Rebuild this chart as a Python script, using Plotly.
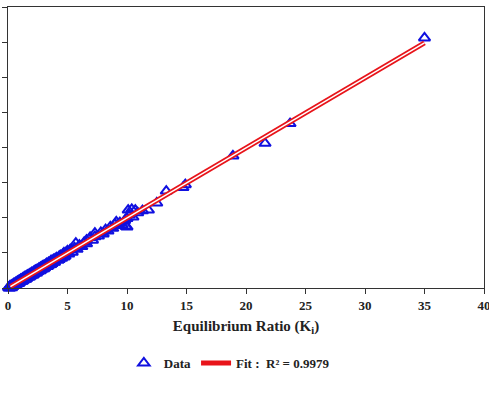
import plotly.graph_objects as go

# Observed data (Equilibrium Ratio, x) vs predicted (y)
data_x = [0.05, 0.15, 0.3, 0.45, 0.6, 0.75, 0.9, 1.05, 1.2, 1.35, 1.5, 1.65, 1.8, 1.95, 2.1,
          2.25, 2.4, 2.55, 2.7, 2.85, 3.0, 3.2, 3.4, 3.6, 3.8, 4.1, 4.4, 4.7, 5.0, 5.3,
          0.1, 0.25, 0.4, 0.55, 0.7, 0.85, 1.0, 1.15, 1.3, 1.45, 1.6, 1.75, 1.9, 2.05, 2.2,
          2.35, 2.5, 2.65, 2.8, 2.95, 3.1, 3.3, 3.5, 3.7, 3.9, 4.2, 4.5, 4.8, 5.1, 5.4,
          0.2, 0.35, 0.5, 0.65, 0.8, 0.95, 1.1, 1.25, 1.4, 1.55, 1.7, 1.85, 2.0, 2.15, 2.3,
          2.45, 2.6, 2.75, 2.9, 3.05, 3.25, 3.45, 3.65, 3.85, 4.05, 4.3, 4.6, 4.9, 5.2,
          0.02, 0.08, 0.12, 0.18, 0.22, 0.28, 0.33, 0.38, 0.5, 0.62, 0.78, 0.95, 1.12, 1.28,
          1.42, 1.58, 1.72, 1.88, 2.02, 2.18, 2.32, 2.48, 2.62, 2.78, 2.92, 3.08, 3.22, 3.38,
          0.3, 0.6, 0.9, 1.2, 1.5, 1.8, 2.1, 2.4, 2.7, 3.0, 3.3, 3.6, 3.9, 4.3, 4.7,
          3.95, 5.7, 5.6, 5.8, 6.0, 6.2, 6.4, 6.6, 6.6, 6.9, 7.1, 7.3, 7.3, 7.6, 7.8, 8.0,
          8.2, 8.4, 8.6, 8.8, 9.0, 9.1, 9.2, 9.4, 9.6, 9.8, 9.9, 10.0, 10.0, 10.1, 10.2,
          10.4, 10.5, 10.7, 10.9, 11.3, 11.8, 12.5, 13.3, 14.7, 14.9, 18.9, 21.6, 23.7, 35.0]
data_y = [0.1, 0.25, 0.35, 0.55, 0.7, 0.85, 1.0, 1.2, 1.3, 1.5, 1.6, 1.8, 1.95, 2.1, 2.2,
          2.4, 2.55, 2.7, 2.85, 3.0, 3.15, 3.4, 3.6, 3.85, 4.0, 4.3, 4.6, 5.0, 5.3, 5.5,
          0.0, 0.1, 0.25, 0.4, 0.55, 0.7, 0.85, 1.0, 1.15, 1.3, 1.45, 1.6, 1.75, 1.9, 2.05,
          2.2, 2.35, 2.5, 2.65, 2.8, 2.95, 3.1, 3.3, 3.5, 3.7, 3.95, 4.25, 4.55, 4.85, 5.1,
          0.3, 0.45, 0.62, 0.78, 0.95, 1.1, 1.25, 1.4, 1.58, 1.72, 1.88, 2.02, 2.2, 2.33, 2.5,
          2.62, 2.8, 2.92, 3.1, 3.22, 3.45, 3.62, 3.85, 4.02, 4.25, 4.5, 4.8, 5.1, 5.4,
          -0.05, 0.02, -0.02, 0.05, 0.08, 0.12, 0.18, 0.2, 0.35, 0.45, 0.6, 0.78, 0.95, 1.1,
          1.25, 1.4, 1.55, 1.7, 1.85, 2.0, 2.15, 2.3, 2.45, 2.6, 2.75, 2.9, 3.05, 3.2,
          0.05, 0.35, 0.65, 0.95, 1.25, 1.55, 1.85, 2.15, 2.45, 2.75, 3.05, 3.35, 3.65, 4.05, 4.4,
          4.1, 6.4, 5.7, 5.5, 6.1, 5.9, 6.5, 6.3, 6.8, 7.2, 6.8, 7.3, 7.8, 7.4, 7.9, 7.7,
          8.3, 8.1, 8.7, 8.5, 9.1, 9.4, 8.9, 9.3, 9.0, 9.6, 8.8, 9.9, 8.7, 11.1, 10.4,
          11.2, 10.1, 11.1, 10.7, 11.0, 11.1, 12.1, 13.8, 14.3, 14.7, 18.8, 20.6, 23.4, 35.6]

fit_x = [0.2, 35.0]
fit_y = [0.2, 34.9]

x_ticks = [0, 5, 10, 15, 20, 25, 30, 35, 40]
y_ticks = [0, 5, 10, 15, 20, 25, 30, 35, 40]

FONT = "Liberation Serif"

fig = go.Figure()
fig.add_trace(go.Scatter(
    x=data_x, y=data_y, mode="markers", name="Data", cliponaxis=False,
    marker=dict(symbol="triangle-up-open", size=10, color="#1010e0",
                line=dict(width=2, color="#1010e0"))))
fig.add_trace(go.Scatter(
    x=fit_x, y=fit_y, mode="lines", name="Fit :  R² = 0.9979",
    line=dict(color="#e8141a", width=5), showlegend=True))
fig.add_trace(go.Scatter(
    x=fit_x, y=fit_y, mode="lines", showlegend=False, hoverinfo="skip",
    line=dict(color="white", width=1.5)))

fig.update_layout(
    width=489, height=407,
    margin=dict(l=8, r=5, t=7, b=119, autoexpand=False),
    paper_bgcolor="white", plot_bgcolor="white",
    font=dict(family=FONT, size=13, color="#222"),
    showlegend=True,
    legend=dict(orientation="h", x=0.465, xanchor="center", y=-0.267, yanchor="middle",
                font=dict(family=FONT, size=13, color="#222", weight="bold"),
                bgcolor="rgba(0,0,0,0)"),
    xaxis=dict(range=[0, 40], tickvals=x_ticks, ticks="outside", ticklen=5,
               tickcolor="#333", showline=True, linecolor="#333", linewidth=1.2,
               mirror=True, showgrid=False, zeroline=False, automargin=False,
               ticklabeloverflow="allow",
               tickfont=dict(family=FONT, size=13, color="#222", weight="bold"),
               title=dict(text="Equilibrium Ratio (K<sub>i</sub>)", standoff=8,
                          font=dict(family=FONT, size=15, color="#222", weight="bold"))),
    yaxis=dict(range=[0, 40], tickvals=y_ticks, ticks="outside", ticklen=5,
               tickcolor="#333", showline=True, linecolor="#333", linewidth=1.2,
               mirror=True, showgrid=False, zeroline=False, showticklabels=False,
               automargin=False),
)

fig.write_html("out.html")
